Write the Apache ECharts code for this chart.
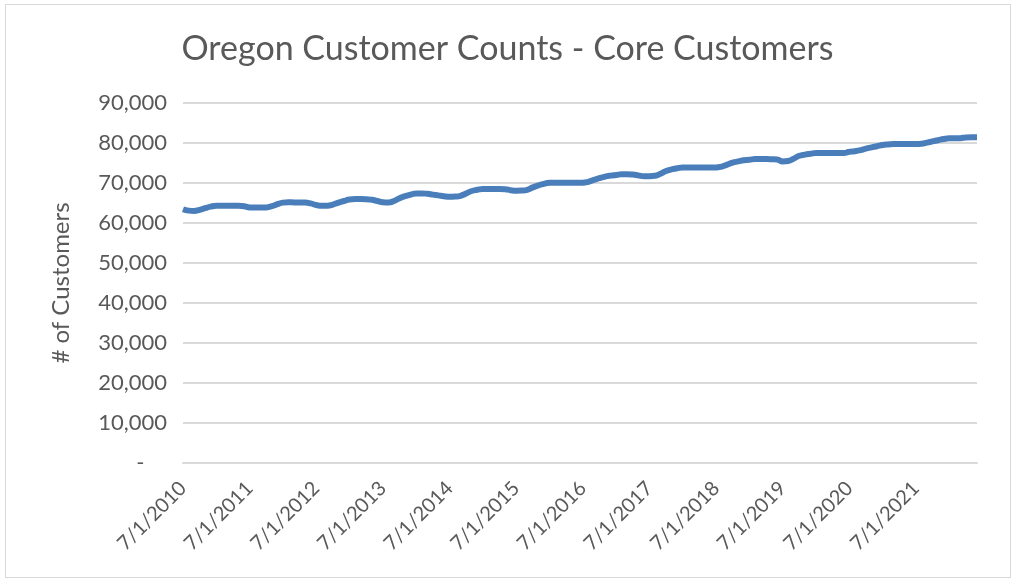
<!DOCTYPE html>
<html>
<head>
<meta charset="utf-8">
<script src="https://cdn.jsdelivr.net/npm/echarts@6/dist/echarts.min.js"></script>
<style>
  html, body { margin: 0; padding: 0; background: #fff; }
  #chart { width: 1015px; height: 580px; }
  #frame { position: absolute; left: 5px; top: 4px; width: 1004px; height: 572px; border: 1px solid #d9d9d9; pointer-events: none; }
</style>
</head>
<body>
<div id="chart"></div>
<div id="frame"></div>
<script>
// monthly counts, 7/2010 .. 6/2022
const months = []
for (let y = 2010; y <= 2022; y++) {
  for (let m = 1; m <= 12; m++) {
    if ((y === 2010 && m < 7) || (y === 2022 && m > 6)) continue
    months.push(m + '/1/' + y)
  }
}

const customers = [
  63450, 63100, 63000, 63300, 63700, 64100, 64300, 64300, 64300, 64300, 64300, 64200,
  63900, 63850, 63850, 63900, 64200, 64700, 65100, 65200, 65150, 65100, 65100, 64900,
  64500, 64300, 64300, 64600, 65100, 65500, 65900, 65970, 65970, 65950, 65800, 65500,
  65200, 65150, 65500, 66200, 66700, 67100, 67400, 67400, 67300, 67100, 66900, 66700,
  66550, 66600, 66800, 67400, 68000, 68300, 68500, 68500, 68500, 68500, 68450, 68200,
  68060, 68100, 68300, 68900, 69400, 69800, 70050, 70080, 70080, 70080, 70080, 70050,
  70050, 70300, 70800, 71200, 71600, 71850, 72000, 72200, 72200, 72100, 71900, 71700,
  71700, 71800, 72300, 73000, 73400, 73700, 73870, 73870, 73870, 73870, 73870, 73870,
  73870, 74100, 74600, 75100, 75400, 75700, 75800, 75970, 75970, 75970, 75950, 75900,
  75400, 75500, 76100, 76800, 77100, 77300, 77480, 77480, 77480, 77480, 77480, 77480,
  77800, 77950, 78200, 78600, 78900, 79200, 79500, 79650, 79750, 79750, 79750, 79750,
  79750, 79800, 80100, 80400, 80700, 81000, 81160, 81160, 81200, 81400, 81420, 81420
]

const titleText = 'Oregon Customer Counts - Core Customers'
const yName = '# of Customers'

const textColor = '#595959'
const fontName = 'Lato'

const chart = echarts.init(document.getElementById('chart'))
chart.setOption({
  animation: false,
  title: {
    text: titleText,
    left: 'center',
    top: 27,
    textStyle: { color: textColor, fontFamily: fontName, fontWeight: 'normal', fontSize: 34 }
  },
  grid: { left: 183, right: 38, top: 103, bottom: 117 },
  xAxis: {
    type: 'category',
    data: months,
    boundaryGap: false,
    axisLine: { lineStyle: { color: '#d9d9d9', width: 2 } },
    axisTick: { show: false },
    axisLabel: {
      interval: 11,
      rotate: 45,
      margin: 22,
      color: textColor,
      fontFamily: fontName,
      fontSize: 20
    }
  },
  yAxis: {
    type: 'value',
    min: 0,
    max: 90000,
    interval: 10000,
    name: yName,
    nameLocation: 'middle',
    nameGap: 110,
    nameTextStyle: { color: textColor, fontFamily: fontName, fontSize: 24 },
    axisLine: { show: false },
    axisTick: { show: false },
    splitLine: { lineStyle: { color: '#d9d9d9', width: 2 } },
    axisLabel: {
      margin: 16,
      color: textColor,
      fontFamily: fontName,
      fontSize: 22,
      formatter: (v) => v === 0 ? '-    ' : v.toLocaleString('en-US')
    }
  },
  series: [
    {
      type: 'line',
      data: customers,
      smooth: true,
      showSymbol: false,
      lineStyle: { color: '#4a7ebb', width: 6 }
    }
  ]
})
</script>
</body>
</html>
